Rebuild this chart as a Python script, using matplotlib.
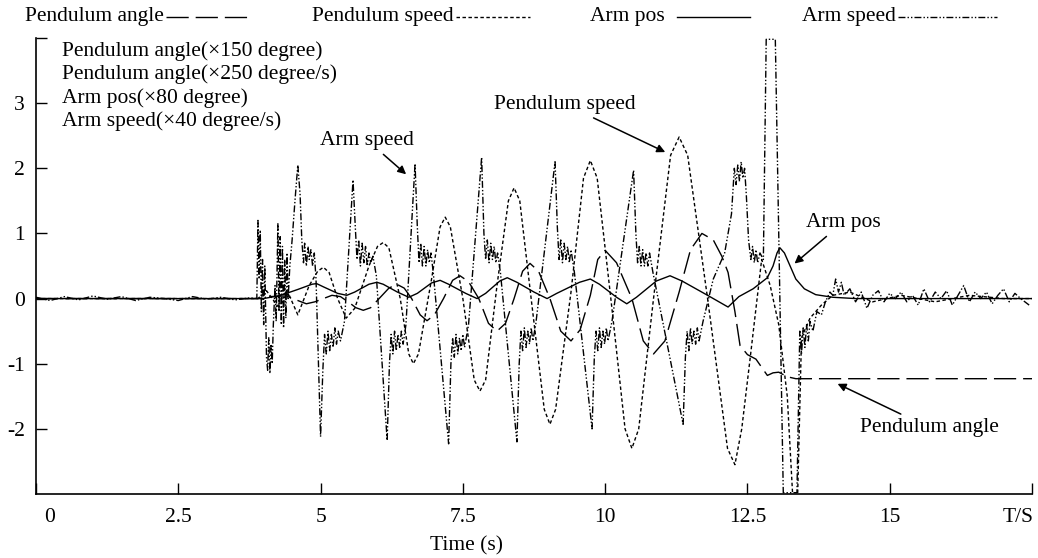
import matplotlib
matplotlib.use("Agg")
import matplotlib.pyplot as plt
from matplotlib.lines import Line2D
from matplotlib.transforms import ScaledTranslation

plt.rcParams["font.family"] = ["Liberation Serif", "DejaVu Serif"]
FS = 15.5

# pendulum angle (x150 degree)
pa_t = [0, 3.9, 4.1, 4.4, 4.6, 4.75, 4.9, 5.05, 5.2, 5.35, 5.5, 5.62, 5.75, 5.88,
        6.05, 6.2, 6.34, 6.47, 6.6, 6.75, 6.87, 7.0, 7.16, 7.32, 7.45, 7.6, 7.78,
        7.95, 8.1, 8.25, 8.4, 8.55, 8.68, 8.83, 9.03, 9.22, 9.4, 9.56, 9.74, 9.87,
        10.0, 10.2, 10.47, 10.67, 10.85, 11.05, 11.3, 11.5, 11.7, 11.9, 12.05,
        12.16, 12.28, 12.37, 12.5, 12.65, 12.85, 12.95, 13.05, 13.2, 13.35, 17.5]
pa_v = [0, 0, 0.03, 0.04, -0.03, -0.08, -0.05, 0.0, 0.05, 0.03, -0.06, -0.14,
        -0.18, -0.14, 0.02, 0.16, 0.22, 0.16, 0.0, -0.25, -0.34, -0.25, 0.0, 0.28,
        0.35, 0.26, 0.0, -0.38, -0.5, -0.38, 0.0, 0.42, 0.54, 0.42, 0.0, -0.5,
        -0.65, -0.48, 0.05, 0.6, 0.74, 0.55, 0.0, -0.65, -0.85, -0.65, 0.1, 0.75,
        1.0, 0.9, 0.65, 0.4, -0.2, -0.72, -0.86, -0.93, -1.18, -1.14, -1.13,
        -1.2, -1.23, -1.23]

# pendulum speed (x250 degree/s)
ps_t = [0, 3.9, 4.05, 4.25, 4.45, 4.6, 4.8, 4.95, 5.05, 5.15, 5.3, 5.45, 5.6, 5.85,
        6.0, 6.1, 6.2, 6.4, 6.55, 6.63, 6.72, 6.95, 7.1, 7.19, 7.28, 7.5, 7.7,
        7.8, 7.9, 8.1, 8.3, 8.4, 8.5, 8.7, 8.93, 9.03, 9.13, 9.4, 9.62, 9.74, 9.86,
        10.1, 10.35, 10.47, 10.59, 10.85, 11.15, 11.3, 11.45, 11.8, 12.15, 12.28,
        12.4, 12.55, 12.75, 12.9, 13.05, 13.2, 13.3, 13.38, 13.45, 13.6, 13.8,
        14.0, 14.3, 14.7, 15.2, 15.8, 16.4, 17.0, 17.5]
ps_v = [0, 0, 0.12, -0.12, 0.05, -0.25, 0.2, 0.42, 0.48, 0.4, 0.0, -0.3, -0.15,
        0.5, 0.8, 0.86, 0.78, 0.0, -0.85, -1.0, -0.85, 0.3, 1.1, 1.25, 1.1, 0.0,
        -1.25, -1.42, -1.25, 0.2, 1.5, 1.7, 1.5, 0.0, -1.7, -1.93, -1.7, 0.1,
        1.85, 2.12, 1.85, 0.0, -2.0, -2.3, -2.0, 0.0, 2.2, 2.48, 2.2, 0.0, -2.3,
        -2.55, -2.0, -0.9, 0.6, 0.2, -0.4, -1.5, -3.1, -3.1, -0.6, -0.3, -0.1,
        0.05, 0.1, -0.05, 0.05, -0.05, 0.05, 0.0, 0.0]

# arm position (x80 degree)
ap_t = [0, 4.0, 4.3, 4.6, 4.85, 4.93, 5.05, 5.3, 5.46, 5.6, 5.85, 5.99, 6.1, 6.35,
        6.55, 6.7, 6.95, 7.1, 7.25, 7.55, 7.75, 7.9, 8.15, 8.28, 8.45, 8.75, 8.98,
        9.15, 9.55, 9.74, 9.9, 10.2, 10.38, 10.55, 10.9, 11.14, 11.35, 11.8, 12.16,
        12.35, 12.6, 12.85, 12.95, 13.02, 13.07, 13.15, 13.25, 13.35, 13.5, 13.7,
        14.0, 14.4, 17.5]
ap_v = [0, 0, 0.05, 0.14, 0.22, 0.23, 0.18, 0.08, 0.05, 0.1, 0.22, 0.25, 0.22,
        0.1, 0.02, 0.08, 0.24, 0.28, 0.22, 0.08, 0.0, 0.08, 0.27, 0.32, 0.25, 0.1,
        0.0, 0.08, 0.25, 0.3, 0.22, 0.02, -0.08, 0.02, 0.27, 0.35, 0.27, 0.05,
        -0.13, 0.03, 0.15, 0.32, 0.5, 0.7, 0.78, 0.7, 0.5, 0.3, 0.15, 0.06, 0.02,
        0.0, 0.0]

# arm speed (x40 degree/s), (time, value) pairs
arm_speed = [
    (0.0, 0.02), (0.25, -0.03), (0.5, 0.03), (0.75, -0.02), (1.0, 0.04), (1.25, -0.01),
    (1.5, 0.03), (1.75, -0.03), (2.0, 0.02), (2.25, 0.0), (2.5, -0.03), (2.75, 0.03),
    (3.0, -0.01), (3.25, 0.02), (3.5, -0.02), (3.75, 0.01), (3.88, 0.0),
    (3.9, 1.2), (3.92, 0.3), (3.94, 1.05), (3.96, -0.2), (3.98, 0.6), (4.0, -0.4),
    (4.02, 0.5), (4.05, -0.9), (4.07, -1.1), (4.09, -0.6), (4.11, -1.15), (4.13, -0.7),
    (4.15, -1.0), (4.17, -0.4), (4.2, 0.2), (4.22, -0.35), (4.25, 1.15), (4.27, -0.2),
    (4.29, 0.95), (4.31, -0.4), (4.33, 0.8), (4.35, -0.45), (4.37, 0.6), (4.39, -0.3),
    (4.41, 0.7), (4.43, 0.0), (4.46, 0.5), (4.5, 0.9), (4.55, 1.5), (4.6, 2.05),
    (4.64, 1.6), (4.67, 0.9), (4.7, 0.55), (4.72, 0.85), (4.75, 0.5), (4.78, 0.8),
    (4.8, 0.6), (4.83, 0.75), (4.86, 0.5), (4.89, 0.7), (4.92, 0.3), (5.0, -2.12),
    (5.04, -1.1), (5.07, -0.55), (5.1, -0.85), (5.13, -0.5), (5.16, -0.8), (5.19, -0.55),
    (5.22, -0.75), (5.25, -0.45), (5.28, -0.7), (5.31, -0.5), (5.35, -0.65), (5.42, -0.35),
    (5.57, 1.82), (5.61, 1.1), (5.64, 0.6), (5.67, 0.9), (5.7, 0.5), (5.73, 0.85),
    (5.76, 0.55), (5.79, 0.8), (5.82, 0.5), (5.85, 0.7), (5.88, 0.55), (5.92, 0.65),
    (5.98, 0.35), (6.17, -2.18), (6.21, -1.0), (6.24, -0.55), (6.27, -0.85), (6.3, -0.5),
    (6.33, -0.8), (6.36, -0.55), (6.39, -0.75), (6.42, -0.5), (6.45, -0.7), (6.5, -0.4),
    (6.66, 2.07), (6.7, 1.1), (6.73, 0.55), (6.76, 0.85), (6.79, 0.5), (6.82, 0.8),
    (6.85, 0.5), (6.88, 0.75), (6.91, 0.55), (6.94, 0.7), (6.98, 0.4), (7.25, -2.23),
    (7.29, -1.0), (7.32, -0.6), (7.35, -0.9), (7.38, -0.55), (7.41, -0.85), (7.44, -0.6),
    (7.47, -0.8), (7.5, -0.55), (7.53, -0.75), (7.6, -0.4), (7.83, 2.17), (7.87, 1.0),
    (7.9, 0.6), (7.93, 0.9), (7.96, 0.55), (7.99, 0.85), (8.02, 0.6), (8.05, 0.8),
    (8.08, 0.55), (8.11, 0.7), (8.16, 0.4), (8.45, -2.2), (8.49, -1.0), (8.52, -0.5),
    (8.55, -0.8), (8.58, -0.45), (8.61, -0.75), (8.64, -0.5), (8.67, -0.7), (8.7, -0.45),
    (8.73, -0.65), (8.78, -0.4), (9.12, 2.1), (9.16, 1.1), (9.19, 0.6), (9.22, 0.9),
    (9.25, 0.55), (9.28, 0.85), (9.31, 0.6), (9.34, 0.8), (9.37, 0.55), (9.4, 0.75),
    (9.46, 0.4), (9.77, -2.0), (9.81, -0.9), (9.84, -0.5), (9.87, -0.8), (9.9, -0.45),
    (9.93, -0.75), (9.96, -0.5), (9.99, -0.7), (10.02, -0.45), (10.05, -0.65),
    (10.12, -0.35), (10.5, 1.97), (10.54, 1.0), (10.57, 0.55), (10.6, 0.8), (10.63, 0.5),
    (10.66, 0.75), (10.69, 0.5), (10.72, 0.7), (10.75, 0.5), (10.78, 0.7), (10.84, 0.4),
    (11.37, -1.93), (11.41, -0.9), (11.44, -0.5), (11.47, -0.8), (11.5, -0.45),
    (11.53, -0.7), (11.56, -0.5), (11.59, -0.7), (11.62, -0.45), (11.65, -0.65),
    (11.72, -0.35), (11.9, 0.3), (12.1, 0.7), (12.22, 1.3), (12.27, 2.0), (12.3, 1.75),
    (12.33, 2.05), (12.36, 1.8), (12.39, 2.1), (12.42, 1.85), (12.45, 2.0), (12.48, 1.6),
    (12.52, 0.9), (12.56, 0.6), (12.59, 0.8), (12.62, 0.55), (12.65, 0.75), (12.68, 0.55),
    (12.72, 0.7), (12.78, 0.6), (12.83, 3.98), (12.99, 3.98), (13.13, -2.98),
    (13.37, -2.98), (13.42, -0.5), (13.45, -0.85), (13.48, -0.45), (13.51, -0.75),
    (13.54, -0.4), (13.57, -0.65), (13.6, -0.35), (13.65, -0.5), (13.72, -0.2),
    (13.8, -0.25), (13.87, -0.05), (13.95, 0.1), (14.0, 0.05), (14.05, 0.3), (14.1, 0.1),
    (14.15, 0.25), (14.2, 0.05), (14.3, 0.15), (14.4, -0.05), (14.5, 0.1), (14.6, -0.15),
    (14.7, 0.05), (14.8, 0.12), (14.9, -0.05), (15.0, 0.08), (15.1, 0.0), (15.2, 0.1),
    (15.3, -0.05), (15.4, 0.05), (15.5, -0.1), (15.6, 0.15), (15.7, -0.05), (15.8, 0.1),
    (15.9, 0.0), (16.0, 0.12), (16.1, -0.1), (16.2, 0.05), (16.3, 0.2), (16.4, -0.05),
    (16.5, 0.1), (16.6, 0.0), (16.7, 0.1), (16.8, -0.08), (16.9, 0.05), (17.0, 0.15),
    (17.1, -0.05), (17.2, 0.08), (17.3, 0.0), (17.45, -0.1),
]
as_t, as_v = zip(*arm_speed)

legend_names = ["Pendulum angle", "Pendulum speed", "Arm pos", "Arm speed"]
scale_notes = ["Pendulum angle(\u00d7150 degree)", "Pendulum angle(\u00d7250 degree/s)",
               "Arm pos(\u00d780 degree)", "Arm speed(\u00d740 degree/s)"]
x_ticks = [0, 2.5, 5, 7.5, 10, 12.5, 15, 17.5]
x_labels = ["0", "2.5", "5", "7.5", "10", "12.5", "15", "T/S"]
y_ticks = [-2, -1, 0, 1, 2, 3, 4]
y_labels = ["-2", "-1", "0", "1", "2", "3", ""]

W, H = 1038, 558
fig = plt.figure(figsize=(W / 100, H / 100), dpi=100)
ax = fig.add_axes([36 / W, (H - 494) / H, (1032 - 36) / W, (494 - 38) / H])

styles = {
    "pa": (0, (16, 5)),
    "ps": (0, (2.5, 1.8)),
    "ap": "-",
    "as": (0, (5, 1.5, 1, 1.5, 1, 1.5)),
}
ax.plot(pa_t, pa_v, color="black", lw=1.0, linestyle=styles["pa"])
ax.plot(ps_t, ps_v, color="black", lw=1.0, linestyle=styles["ps"])
ax.plot(ap_t, ap_v, color="black", lw=1.0, linestyle=styles["ap"])
ax.plot(as_t, as_v, color="black", lw=1.0, linestyle=styles["as"])

ax.set_xlim(0, 17.5)
ax.set_ylim(-3, 4)
ax.set_xticks(x_ticks)
ax.set_xticklabels(x_labels)
ax.set_yticks(y_ticks)
ax.set_yticklabels(y_labels)
ax.tick_params(direction="in", length=8, width=1, pad=10, labelsize=FS)
ax.tick_params(axis="y", pad=8)
for s in ["top", "right"]:
    ax.spines[s].set_visible(False)
for s in ["left", "bottom"]:
    ax.spines[s].set_linewidth(1.2)

# shift the end tick labels like the original
xl = ax.get_xticklabels()
xl[0].set_transform(xl[0].get_transform() + ScaledTranslation(14 / 100, 0, fig.dpi_scale_trans))
xl[-1].set_transform(xl[-1].get_transform() + ScaledTranslation(-14 / 100, 0, fig.dpi_scale_trans))

fig.text(467 / W, 1 - 546 / H, "Time (s)", ha="center", va="center", fontsize=FS)

# top legend row: text ends where its line sample starts
leg_line_x = [(166, 248), (456, 530), (677, 750), (898, 997)]
keys = ["pa", "ps", "ap", "as"]
for name, (x0, x1), k in zip(legend_names, leg_line_x, keys):
    gap = 12 if k == "ap" else 2
    fig.text((x0 - gap) / W, 1 - 17 / H, name, ha="right", va="center", fontsize=FS)
    fig.add_artist(Line2D([x0 / W, x1 / W], [1 - 17 / H, 1 - 17 / H],
                          transform=fig.transFigure, color="black", lw=1.0,
                          linestyle=styles[k]))

# scale notes
for i, note in enumerate(scale_notes):
    fig.text(62 / W, 1 - (51 + 23.5 * i) / H, note, ha="left", va="center", fontsize=FS)

arrow = dict(arrowstyle="-|>", color="black", lw=1.1, mutation_scale=12)
ax.annotate("Arm speed", xy=(6.54, 1.88), xytext=(5.82, 2.43), ha="center",
            va="center", fontsize=FS, arrowprops=arrow)
ax.annotate("Pendulum speed", xy=(11.1, 2.23), xytext=(9.3, 2.98),
            ha="center", va="center", fontsize=FS, arrowprops=arrow)
ax.annotate("Arm pos", xy=(13.29, 0.51), xytext=(14.18, 1.17),
            ha="center", va="center", fontsize=FS, arrowprops=arrow)
ax.annotate("Pendulum angle", xy=(14.04, -1.29), xytext=(15.69, -1.98),
            ha="center", va="center", fontsize=FS, arrowprops=arrow)
plt.savefig("out.png", dpi=100)
